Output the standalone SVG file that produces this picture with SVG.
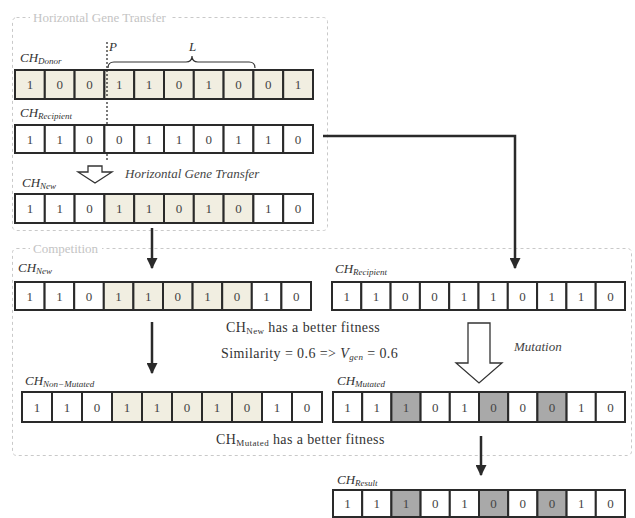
<svg xmlns="http://www.w3.org/2000/svg" width="635" height="518" viewBox="0 0 635 518">
<style>
.cell{stroke:#2a2a2a;stroke-width:2;fill:#fff}
.b{fill:#f1eee1}
.g{fill:#a9a9a9}
.d{font-family:"Liberation Serif",serif;font-size:13px;fill:#444;text-anchor:middle}
.lab{font-family:"Liberation Serif",serif;font-style:italic;font-size:13px;fill:#333}
.sub{font-size:9px}
.txt{font-family:"Liberation Serif",serif;font-size:14px;fill:#333;letter-spacing:0.4px}
.it{font-family:"Liberation Serif",serif;font-style:italic;font-size:13px;fill:#444}
.grp{fill:none;stroke:#c9c9c9;stroke-width:1;stroke-dasharray:3 3}
.glab{font-family:"Liberation Serif",serif;font-size:13px;fill:#c4c4c4}
.conn{fill:none;stroke:#2a2a2a;stroke-width:2.5}
</style>
<defs>
<marker id="ah" viewBox="0 0 10 10" refX="9" refY="5" markerWidth="4.4" markerHeight="4.4" orient="auto">
<path d="M0,0 L10,5 L0,10 z" fill="#2a2a2a"/>
</marker>
</defs>
<rect width="635" height="518" fill="#fff"/>

<g id="group-hgt">
<rect class="grp" x="12.5" y="17.5" width="315" height="213" rx="4"/>
<rect x="30" y="10" width="140" height="15" fill="#fff"/>
<text class="glab" x="33" y="22">Horizontal Gene Transfer</text>
</g>
<g id="group-competition">
<rect class="grp" x="12.5" y="248.5" width="619" height="207" rx="4"/>
<rect x="30" y="241" width="72" height="15" fill="#fff"/>
<text class="glab" x="33" y="253">Competition</text>
</g>

<g id="ch-donor">
<text class="lab" x="20" y="62">CH<tspan class="sub" dy="2">Donor</tspan></text>
<rect class="cell b" x="15" y="70" width="29.8" height="29"/><text class="d" x="29.9" y="89">1</text>
<rect class="cell b" x="44.8" y="70" width="29.8" height="29"/><text class="d" x="59.7" y="89">0</text>
<rect class="cell b" x="74.6" y="70" width="29.8" height="29"/><text class="d" x="89.5" y="89">0</text>
<rect class="cell b" x="104.4" y="70" width="29.8" height="29"/><text class="d" x="119.3" y="89">1</text>
<rect class="cell b" x="134.2" y="70" width="29.8" height="29"/><text class="d" x="149.1" y="89">1</text>
<rect class="cell b" x="164" y="70" width="29.8" height="29"/><text class="d" x="178.9" y="89">0</text>
<rect class="cell b" x="193.8" y="70" width="29.8" height="29"/><text class="d" x="208.7" y="89">1</text>
<rect class="cell b" x="223.6" y="70" width="29.8" height="29"/><text class="d" x="238.5" y="89">0</text>
<rect class="cell b" x="253.4" y="70" width="29.8" height="29"/><text class="d" x="268.3" y="89">0</text>
<rect class="cell b" x="283.2" y="70" width="29.8" height="29"/><text class="d" x="298.1" y="89">1</text>
</g>

<g id="marker-p-l">
<line x1="107" y1="42" x2="107" y2="160" stroke="#222" stroke-width="1.2" stroke-dasharray="2 2"/>
<text class="lab" x="109" y="51">P</text>
<path d="M108,68 Q108,62 114,62 L186,62 Q192,62 192,56 Q192,62 198,62 L249,62 Q255,62 255,68" fill="none" stroke="#333" stroke-width="1.2"/>
<text class="lab" x="189" y="51">L</text>
</g>

<g id="ch-recipient-top">
<text class="lab" x="20" y="117">CH<tspan class="sub" dy="2">Recipient</tspan></text>
<rect class="cell" x="15" y="125" width="29.8" height="28"/><text class="d" x="29.9" y="144">1</text>
<rect class="cell" x="44.8" y="125" width="29.8" height="28"/><text class="d" x="59.7" y="144">1</text>
<rect class="cell" x="74.6" y="125" width="29.8" height="28"/><text class="d" x="89.5" y="144">0</text>
<rect class="cell" x="104.4" y="125" width="29.8" height="28"/><text class="d" x="119.3" y="144">0</text>
<rect class="cell" x="134.2" y="125" width="29.8" height="28"/><text class="d" x="149.1" y="144">1</text>
<rect class="cell" x="164" y="125" width="29.8" height="28"/><text class="d" x="178.9" y="144">1</text>
<rect class="cell" x="193.8" y="125" width="29.8" height="28"/><text class="d" x="208.7" y="144">0</text>
<rect class="cell" x="223.6" y="125" width="29.8" height="28"/><text class="d" x="238.5" y="144">1</text>
<rect class="cell" x="253.4" y="125" width="29.8" height="28"/><text class="d" x="268.3" y="144">1</text>
<rect class="cell" x="283.2" y="125" width="29.8" height="28"/><text class="d" x="298.1" y="144">0</text>
</g>

<g id="hgt-step">
<path d="M88,166 L102,166 L102,172 L112,172 L95,183 L78,172 L88,172 Z" fill="#fff" stroke="#333" stroke-width="1.3"/>
<text class="it" x="125" y="178">Horizontal Gene Transfer</text>
</g>

<g id="ch-new-top">
<text class="lab" x="22" y="187">CH<tspan class="sub" dy="2">New</tspan></text>
<rect class="cell" x="15" y="194" width="29.8" height="29"/><text class="d" x="29.9" y="213">1</text>
<rect class="cell" x="44.8" y="194" width="29.8" height="29"/><text class="d" x="59.7" y="213">1</text>
<rect class="cell" x="74.6" y="194" width="29.8" height="29"/><text class="d" x="89.5" y="213">0</text>
<rect class="cell b" x="104.4" y="194" width="29.8" height="29"/><text class="d" x="119.3" y="213">1</text>
<rect class="cell b" x="134.2" y="194" width="29.8" height="29"/><text class="d" x="149.1" y="213">1</text>
<rect class="cell b" x="164" y="194" width="29.8" height="29"/><text class="d" x="178.9" y="213">0</text>
<rect class="cell b" x="193.8" y="194" width="29.8" height="29"/><text class="d" x="208.7" y="213">1</text>
<rect class="cell b" x="223.6" y="194" width="29.8" height="29"/><text class="d" x="238.5" y="213">0</text>
<rect class="cell" x="253.4" y="194" width="29.8" height="29"/><text class="d" x="268.3" y="213">1</text>
<rect class="cell" x="283.2" y="194" width="29.8" height="29"/><text class="d" x="298.1" y="213">0</text>
</g>

<g id="ch-new-comp">
<text class="lab" x="18" y="272">CH<tspan class="sub" dy="2">New</tspan></text>
<rect class="cell" x="15" y="282" width="29.6" height="28"/><text class="d" x="29.8" y="301">1</text>
<rect class="cell" x="44.6" y="282" width="29.6" height="28"/><text class="d" x="59.4" y="301">1</text>
<rect class="cell" x="74.2" y="282" width="29.6" height="28"/><text class="d" x="89" y="301">0</text>
<rect class="cell b" x="103.8" y="282" width="29.6" height="28"/><text class="d" x="118.6" y="301">1</text>
<rect class="cell b" x="133.4" y="282" width="29.6" height="28"/><text class="d" x="148.2" y="301">1</text>
<rect class="cell b" x="163" y="282" width="29.6" height="28"/><text class="d" x="177.8" y="301">0</text>
<rect class="cell b" x="192.6" y="282" width="29.6" height="28"/><text class="d" x="207.4" y="301">1</text>
<rect class="cell b" x="222.2" y="282" width="29.6" height="28"/><text class="d" x="237" y="301">0</text>
<rect class="cell" x="251.8" y="282" width="29.6" height="28"/><text class="d" x="266.6" y="301">1</text>
<rect class="cell" x="281.4" y="282" width="29.6" height="28"/><text class="d" x="296.2" y="301">0</text>
</g>

<g id="ch-recipient-comp">
<text class="lab" x="335" y="273">CH<tspan class="sub" dy="2">Recipient</tspan></text>
<rect class="cell" x="332" y="282" width="29.3" height="28"/><text class="d" x="346.7" y="301">1</text>
<rect class="cell" x="361.3" y="282" width="29.3" height="28"/><text class="d" x="376" y="301">1</text>
<rect class="cell" x="390.6" y="282" width="29.3" height="28"/><text class="d" x="405.3" y="301">0</text>
<rect class="cell" x="419.9" y="282" width="29.3" height="28"/><text class="d" x="434.6" y="301">0</text>
<rect class="cell" x="449.2" y="282" width="29.3" height="28"/><text class="d" x="463.9" y="301">1</text>
<rect class="cell" x="478.5" y="282" width="29.3" height="28"/><text class="d" x="493.2" y="301">1</text>
<rect class="cell" x="507.8" y="282" width="29.3" height="28"/><text class="d" x="522.5" y="301">0</text>
<rect class="cell" x="537.1" y="282" width="29.3" height="28"/><text class="d" x="551.8" y="301">1</text>
<rect class="cell" x="566.4" y="282" width="29.3" height="28"/><text class="d" x="581.1" y="301">1</text>
<rect class="cell" x="595.7" y="282" width="29.3" height="28"/><text class="d" x="610.4" y="301">0</text>
</g>

<g id="comp-notes">
<text class="txt" x="226" y="332">CH<tspan class="sub" dy="2">New</tspan><tspan dy="-2"> has a better fitness</tspan></text>
<text class="txt" x="221" y="358">Similarity = 0.6  =&gt;  <tspan font-style="italic">V</tspan><tspan class="sub" font-style="italic" dy="2">gen</tspan><tspan dy="-2"> = 0.6</tspan></text>
<text class="txt" x="216" y="444">CH<tspan class="sub" dy="2">Mutated</tspan><tspan dy="-2"> has a better fitness</tspan></text>
</g>

<g id="mutation-step">
<path d="M468,323 L490,323 L490,363 L502,363 L479,383 L456,363 L468,363 Z" fill="#fff" stroke="#333" stroke-width="1.3"/>
<text class="it" x="514" y="351">Mutation</text>
</g>

<g id="ch-non-mutated">
<text class="lab" x="25" y="385">CH<tspan class="sub" dy="2">Non−Mutated</tspan></text>
<rect class="cell" x="22" y="392" width="30" height="30"/><text class="d" x="37" y="412">1</text>
<rect class="cell" x="52" y="392" width="30" height="30"/><text class="d" x="67" y="412">1</text>
<rect class="cell" x="82" y="392" width="30" height="30"/><text class="d" x="97" y="412">0</text>
<rect class="cell b" x="112" y="392" width="30" height="30"/><text class="d" x="127" y="412">1</text>
<rect class="cell b" x="142" y="392" width="30" height="30"/><text class="d" x="157" y="412">1</text>
<rect class="cell b" x="172" y="392" width="30" height="30"/><text class="d" x="187" y="412">0</text>
<rect class="cell b" x="202" y="392" width="30" height="30"/><text class="d" x="217" y="412">1</text>
<rect class="cell b" x="232" y="392" width="30" height="30"/><text class="d" x="247" y="412">0</text>
<rect class="cell" x="262" y="392" width="30" height="30"/><text class="d" x="277" y="412">1</text>
<rect class="cell" x="292" y="392" width="30" height="30"/><text class="d" x="307" y="412">0</text>
</g>

<g id="ch-mutated">
<text class="lab" x="337" y="385">CH<tspan class="sub" dy="2">Mutated</tspan></text>
<rect class="cell" x="333" y="392" width="29.2" height="30"/><text class="d" x="347.6" y="412">1</text>
<rect class="cell" x="362.2" y="392" width="29.2" height="30"/><text class="d" x="376.8" y="412">1</text>
<rect class="cell g" x="391.4" y="392" width="29.2" height="30"/><text class="d" x="406" y="412">1</text>
<rect class="cell" x="420.6" y="392" width="29.2" height="30"/><text class="d" x="435.2" y="412">0</text>
<rect class="cell" x="449.8" y="392" width="29.2" height="30"/><text class="d" x="464.4" y="412">1</text>
<rect class="cell g" x="479" y="392" width="29.2" height="30"/><text class="d" x="493.6" y="412">0</text>
<rect class="cell" x="508.2" y="392" width="29.2" height="30"/><text class="d" x="522.8" y="412">0</text>
<rect class="cell g" x="537.4" y="392" width="29.2" height="30"/><text class="d" x="552" y="412">0</text>
<rect class="cell" x="566.6" y="392" width="29.2" height="30"/><text class="d" x="581.2" y="412">1</text>
<rect class="cell" x="595.8" y="392" width="29.2" height="30"/><text class="d" x="610.4" y="412">0</text>
</g>

<g id="ch-result">
<text class="lab" x="337" y="484">CH<tspan class="sub" dy="2">Result</tspan></text>
<rect class="cell" x="333" y="490" width="29.2" height="27"/><text class="d" x="347.6" y="508">1</text>
<rect class="cell" x="362.2" y="490" width="29.2" height="27"/><text class="d" x="376.8" y="508">1</text>
<rect class="cell g" x="391.4" y="490" width="29.2" height="27"/><text class="d" x="406" y="508">1</text>
<rect class="cell" x="420.6" y="490" width="29.2" height="27"/><text class="d" x="435.2" y="508">0</text>
<rect class="cell" x="449.8" y="490" width="29.2" height="27"/><text class="d" x="464.4" y="508">1</text>
<rect class="cell g" x="479" y="490" width="29.2" height="27"/><text class="d" x="493.6" y="508">0</text>
<rect class="cell" x="508.2" y="490" width="29.2" height="27"/><text class="d" x="522.8" y="508">0</text>
<rect class="cell g" x="537.4" y="490" width="29.2" height="27"/><text class="d" x="552" y="508">0</text>
<rect class="cell" x="566.6" y="490" width="29.2" height="27"/><text class="d" x="581.2" y="508">1</text>
<rect class="cell" x="595.8" y="490" width="29.2" height="27"/><text class="d" x="610.4" y="508">0</text>
</g>

<g id="connectors">
<line class="conn" x1="152" y1="228" x2="152" y2="268" marker-end="url(#ah)"/>
<path class="conn" d="M323,136 H515 V268" marker-end="url(#ah)"/>
<line class="conn" x1="152" y1="322" x2="152" y2="373" marker-end="url(#ah)"/>
<line class="conn" x1="481" y1="436" x2="481" y2="475" marker-end="url(#ah)"/>
</g>
</svg>
